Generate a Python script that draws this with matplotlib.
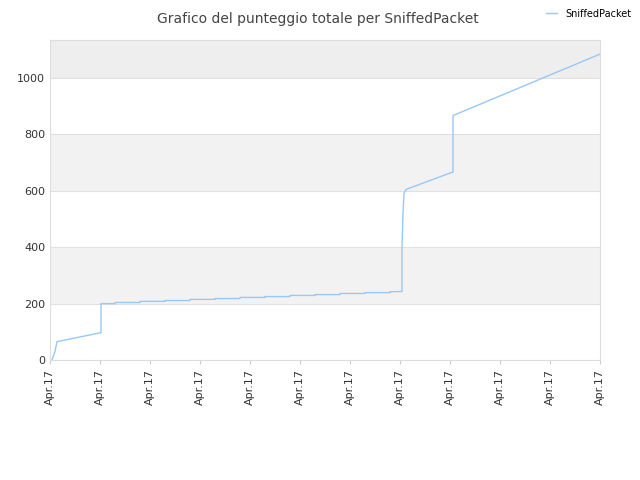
import matplotlib
matplotlib.use("Agg")
import matplotlib.pyplot as plt

xs = [0.04, 0.10, 0.14, 1.02, 1.02, 1.3, 1.3, 1.8, 1.8, 2.3, 2.3, 2.8, 2.8, 3.3, 3.3, 3.8, 3.8,
      4.3, 4.3, 4.8, 4.8, 5.3, 5.3, 5.8, 5.8, 6.3, 6.3, 6.8, 6.8, 7.04, 7.04, 7.06, 7.08, 7.12, 8.06, 8.06, 11.0]
ys = [0, 30, 65, 97, 200, 200, 204, 204, 208, 208, 211, 211, 215, 215, 218, 218, 222,
      222, 225, 225, 229, 229, 232, 232, 236, 236, 239, 239, 242, 243, 400, 520, 590, 605, 667, 867, 1085]
ticklabels = ["Apr.17"] * 12

fig = plt.figure(figsize=(6.4, 4.8), dpi=100)
ax = fig.add_axes([50/640, 120/480, 550/640, 320/480])
ax.set_xlim(0, 11)
ax.set_ylim(0, 1135)
for lo, hi, c in [(200, 400, "#f2f2f2"), (600, 800, "#f2f2f2"), (1000, 1135, "#eeeeee")]:
    ax.axhspan(lo, hi, color=c, zorder=0, lw=0)
for y in [200, 400, 600, 800, 1000]:
    ax.axhline(y, color="#e0e0e0", lw=0.8, zorder=1)
ax.plot(xs, ys, color="#99c8f5", lw=1, label="SniffedPacket", zorder=2)
ax.set_xticks(range(12))
ax.set_xticklabels(ticklabels, rotation=90, fontsize=8, color="#333333")
ax.set_yticks([0, 200, 400, 600, 800, 1000])
ax.tick_params(axis="y", labelsize=8, colors="#333333", length=0)
ax.tick_params(axis="x", length=3, color="#cccccc")
for s in ax.spines.values():
    s.set_color("#dddddd")
fig.text(0.496, 0.975, "Grafico del punteggio totale per SniffedPacket", ha="center", va="top", fontsize=10, color="#444444")
fig.legend(loc="upper right", bbox_to_anchor=(1.0, 1.0), frameon=False, fontsize=7, handlelength=1.2)
fig.savefig("out.png")
